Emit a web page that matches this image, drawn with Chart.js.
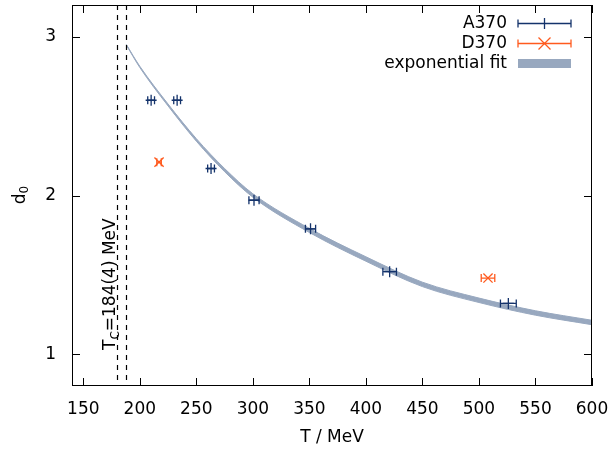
<!DOCTYPE html>
<html>
<head>
<meta charset="utf-8">
<script src="https://cdn.jsdelivr.net/npm/chart.js@4.4.0/dist/chart.umd.min.js"></script>
<style>
html, body { margin: 0; padding: 0; background: #ffffff; }
#wrap { width: 613px; height: 450px; }
</style>
</head>
<body>
<div id="wrap"><canvas id="d0chart"></canvas></div>
<script>
// A370 ensemble: temperature, d0, temperature error
var a370T    = [210, 233, 263, 301, 351, 421, 526];
var a370D    = [2.60, 2.60, 2.17, 1.97, 1.79, 1.52, 1.32];
var a370Terr = [3, 3, 3, 4.5, 4.5, 6, 7];

// D370 ensemble
var d370T    = [217, 508];
var d370D    = [2.21, 1.48];
var d370Terr = [2, 6];

// exponential fit: central curve and half-width of its error band
var fitT   = [188, 200, 225, 250, 275, 300, 350, 400, 450, 500, 550, 600];
var fitD   = [2.95, 2.81, 2.57, 2.35, 2.16, 2.00, 1.78, 1.60, 1.44, 1.34, 1.26, 1.20];
var fitErr = [0.002, 0.004, 0.006, 0.008, 0.010, 0.011, 0.013, 0.014, 0.014, 0.014, 0.014, 0.014];

// T_c = 184(4) MeV, drawn as its two bounds
var tcLines = [180, 188];

var xTicks = [150, 200, 250, 300, 350, 400, 450, 500, 550, 600];
var yTicks = [1, 2, 3];

var NAVY = '#14336b';
var ORANGE = '#ff5a1e';
var BAND = '#98a8bf';
var FONT = "'DejaVu Sans', sans-serif";

function pts(xs, ys) {
    var out = [];
    for (var i = 0; i < xs.length; i++) out.push({ x: xs[i], y: ys[i] });
    return out;
}

var fitUpper = [], fitLower = [];
for (var i = 0; i < fitT.length; i++) {
    fitUpper.push({ x: fitT[i], y: fitD[i] + fitErr[i] });
    fitLower.push({ x: fitT[i], y: fitD[i] - fitErr[i] });
}

// horizontal error bar with end caps
function hBar(ctx, x0, x1, y, cap) {
    ctx.beginPath();
    ctx.moveTo(x0, y); ctx.lineTo(x1, y);
    ctx.moveTo(x0, y - cap); ctx.lineTo(x0, y + cap);
    ctx.moveTo(x1, y - cap); ctx.lineTo(x1, y + cap);
    ctx.stroke();
}

var decor = {
    id: 'decor',
    afterDatasetsDraw: function (chart) {
        var ctx = chart.ctx, xs = chart.scales.x, ys = chart.scales.y;
        var a = chart.chartArea;

        ctx.save();
        // error bars
        ctx.lineWidth = 1.3;
        ctx.strokeStyle = NAVY;
        for (var i = 0; i < a370T.length; i++) {
            hBar(ctx, xs.getPixelForValue(a370T[i] - a370Terr[i]),
                xs.getPixelForValue(a370T[i] + a370Terr[i]),
                ys.getPixelForValue(a370D[i]), 4);
        }
        ctx.strokeStyle = ORANGE;
        for (var j = 0; j < d370T.length; j++) {
            hBar(ctx, xs.getPixelForValue(d370T[j] - d370Terr[j]),
                xs.getPixelForValue(d370T[j] + d370Terr[j]),
                ys.getPixelForValue(d370D[j]), 4);
        }

        // T_c bounds
        ctx.strokeStyle = '#000';
        ctx.lineWidth = 1.2;
        ctx.setLineDash([5, 5]);
        tcLines.forEach(function (t) {
            var px = Math.round(xs.getPixelForValue(t)) + 0.5;
            ctx.beginPath();
            ctx.moveTo(px, a.top); ctx.lineTo(px, a.bottom);
            ctx.stroke();
        });
        ctx.setLineDash([]);

        // frame with inward ticks on all sides
        ctx.lineWidth = 1;
        ctx.strokeRect(a.left + 0.5, a.top + 0.5, a.right - a.left - 1, a.bottom - a.top - 1);
        ctx.beginPath();
        xTicks.forEach(function (t) {
            var px = Math.round(xs.getPixelForValue(t)) + 0.5;
            ctx.moveTo(px, a.bottom); ctx.lineTo(px, a.bottom - 8);
            ctx.moveTo(px, a.top); ctx.lineTo(px, a.top + 8);
        });
        yTicks.forEach(function (t) {
            var py = Math.round(ys.getPixelForValue(t)) + 0.5;
            ctx.moveTo(a.left, py); ctx.lineTo(a.left + 8, py);
            ctx.moveTo(a.right, py); ctx.lineTo(a.right - 8, py);
        });
        ctx.stroke();

        ctx.fillStyle = '#000';
        ctx.textBaseline = 'alphabetic';

        // T_c label, vertical
        ctx.save();
        ctx.translate(115, 350);
        ctx.rotate(-Math.PI / 2);
        ctx.font = '17px ' + FONT;
        ctx.textAlign = 'left';
        ctx.fillText('T', 0, 0);
        var w = ctx.measureText('T').width;
        ctx.font = '12px ' + FONT;
        ctx.fillText('C', w, 4);
        w += ctx.measureText('C').width;
        ctx.font = '17px ' + FONT;
        ctx.fillText('=184(4) MeV', w, 0);
        ctx.restore();

        // y axis title d0
        ctx.save();
        ctx.translate(25, 195);
        ctx.rotate(-Math.PI / 2);
        ctx.font = '17px ' + FONT;
        var dw = ctx.measureText('d').width;
        ctx.font = '12px ' + FONT;
        var sw = ctx.measureText('0').width;
        ctx.textAlign = 'left';
        ctx.font = '17px ' + FONT;
        ctx.fillText('d', -(dw + sw) / 2, 0);
        ctx.font = '12px ' + FONT;
        ctx.fillText('0', -(dw + sw) / 2 + dw, 3);
        ctx.restore();

        // x axis title
        ctx.font = '17px ' + FONT;
        ctx.textAlign = 'center';
        ctx.textBaseline = 'middle';
        ctx.fillText('T / MeV', (a.left + a.right) / 2, 438);

        // key, top right
        var tx = 507, sx0 = 518, sx1 = 571, sxm = (sx0 + sx1) / 2;
        ctx.textAlign = 'right';
        ctx.fillText('A370', tx, 24);
        ctx.fillText('D370', tx, 44);
        ctx.fillText('exponential fit', tx, 64);

        ctx.lineWidth = 1.3;
        ctx.strokeStyle = NAVY;
        hBar(ctx, sx0, sx1, 23.5, 4);
        ctx.beginPath();
        ctx.moveTo(sxm, 18); ctx.lineTo(sxm, 29);
        ctx.stroke();

        ctx.strokeStyle = ORANGE;
        hBar(ctx, sx0, sx1, 43.5, 4);
        ctx.beginPath();
        ctx.moveTo(sxm - 6, 37.5); ctx.lineTo(sxm + 6, 49.5);
        ctx.moveTo(sxm - 6, 49.5); ctx.lineTo(sxm + 6, 37.5);
        ctx.stroke();

        ctx.fillStyle = BAND;
        ctx.fillRect(sx0, 59, sx1 - sx0, 9);
        ctx.restore();
    }
};

var chart = new Chart(document.getElementById('d0chart'), {
    type: 'scatter',
    data: {
        datasets: [
            {
                label: 'A370',
                data: pts(a370T, a370D),
                pointStyle: 'cross',
                pointRadius: 5.5,
                borderColor: NAVY,
                backgroundColor: NAVY,
                borderWidth: 1.3,
                order: 1
            },
            {
                label: 'D370',
                data: pts(d370T, d370D),
                pointStyle: 'crossRot',
                pointRadius: 6.5,
                borderColor: ORANGE,
                backgroundColor: ORANGE,
                borderWidth: 1.3,
                order: 1
            },
            {
                label: 'fit upper',
                data: fitUpper,
                showLine: true,
                pointRadius: 0,
                borderColor: BAND,
                borderWidth: 1,
                cubicInterpolationMode: 'monotone',
                fill: false,
                order: 2
            },
            {
                label: 'exponential fit',
                data: fitLower,
                showLine: true,
                pointRadius: 0,
                borderColor: BAND,
                backgroundColor: BAND,
                borderWidth: 1,
                cubicInterpolationMode: 'monotone',
                fill: '-1',
                order: 2
            }
        ]
    },
    options: {
        responsive: true,
        maintainAspectRatio: false,
        animation: false,
        layout: { autoPadding: false, padding: { top: 5, right: 21, left: 0, bottom: 0 } },
        plugins: {
            legend: { display: false },
            tooltip: { enabled: false }
        },
        scales: {
            x: {
                type: 'linear',
                min: 140,
                max: 600,
                grid: { display: false },
                border: { display: false },
                afterBuildTicks: function (scale) {
                    scale.ticks = xTicks.map(function (v) { return { value: v }; });
                },
                afterFit: function (scale) {
                    scale.height = 64;
                    scale.paddingLeft = 0;
                    scale.paddingRight = 0;
                },
                ticks: {
                    padding: 5,
                    maxRotation: 0,
                    color: '#000',
                    font: { family: FONT, size: 17 }
                }
            },
            y: {
                type: 'linear',
                min: 0.8,
                max: 3.2,
                grid: { display: false },
                border: { display: false },
                afterBuildTicks: function (scale) {
                    scale.ticks = yTicks.map(function (v) { return { value: v }; });
                },
                afterFit: function (scale) {
                    scale.width = 72;
                    scale.paddingTop = 0;
                    scale.paddingBottom = 0;
                },
                ticks: {
                    padding: 8,
                    color: '#000',
                    font: { family: FONT, size: 17 }
                }
            }
        }
    },
    plugins: [decor]
});
</script>
</body>
</html>
